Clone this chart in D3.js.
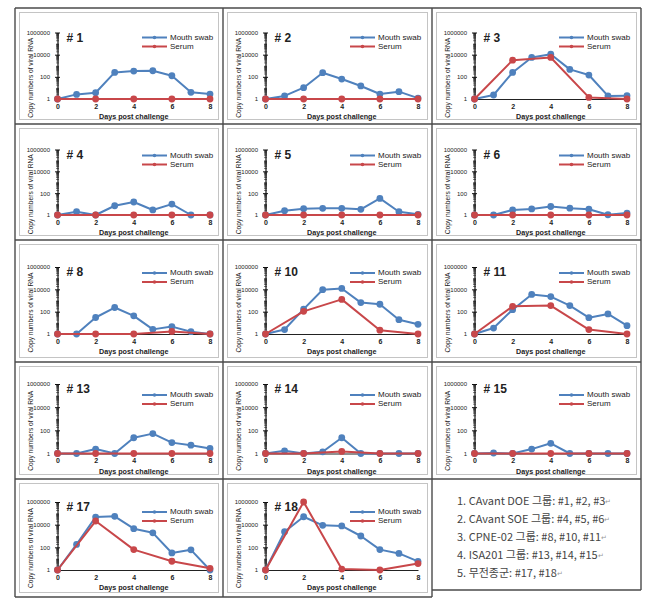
<!DOCTYPE html>
<html><head><meta charset="utf-8">
<script src="https://cdn.jsdelivr.net/npm/d3@7"></script>
<style>body{margin:0;background:#fff} svg{display:block}</style>
</head><body><svg id="c" width="658" height="606"></svg>
<script>
const days = [0,1,2,3,4,5,6,7,8];
const serumDays = [0,2,4,6,8];
const panelLabels = ["# 1","# 2","# 3","# 4","# 5","# 6","# 8","# 10","# 11","# 13","# 14","# 15","# 17","# 18"];
const mouthSwab = [
 [1,2.6,3.7,250,330,355,125,4,2.8],
 [1,1.9,10.5,235,63,15,2.8,4.6,1.2],
 [1,2.3,250,5600,11000,470,145,1.9,2],
 [1,2,1,7,15.5,2.9,10,1,1],
 [1,2.5,3.8,4.1,4.1,3.3,33,2,1.15],
 [1,1,2.9,3.6,6,4.2,3.4,1.05,1.5],
 [1,1,30,235,42,2.6,4.6,1.6,1],
 [1,2.5,170,9300,12000,650,460,19,7.4],
 [1,3.4,150,3500,2250,350,29,63,5.6],
 [1,1,2.4,1,23,52,8.7,5.2,2.7],
 [1,1.7,1,1.4,23,1,1,1,1],
 [1,1.1,1,2.4,7.6,1,1,1,1],
 [1,180,47000,54000,4400,1900,32,60,1],
 [1,2400,50000,8700,7700,1000,63,29,5.8]
];
const serum = [
 [1,1,1,1,1],
 [1,1,1,1,1],
 [1,3200,5600,1.4,1],
 [1,1,1,1,1],
 [1,1,1,1,1],
 [1,1,1,1,1],
 [1,1,1,1.7,1],
 [1,107,1260,2.2,1],
 [1,300,350,2.5,1],
 [1,1,1,1,1],
 [1,1,1.5,1,1],
 [1,1,1,1,1],
 [1,21000,63,5.9,1.4],
 [1,1000000,1.2,1,3.7]
];
const seriesNames = ["Mouth swab","Serum"];
const yTicks = [1,100,10000,1000000];
const xTicks = [0,2,4,6,8];
const xTitle = "Days post challenge";
const yTitle = "Copy numbers of viral RNA";
const groupNotes = [
 "1. CAvant DOE  그룹: #1, #2, #3",
 "2. CAvant SOE  그룹: #4, #5, #6",
 "3. CPNE-02  그룹: #8, #10, #11",
 "4. ISA201  그룹: #13, #14, #15",
 "5. 무전종군: #17, #18"
];

// layout
const colX = [15,223,432,641];
const rowY = [8,124,240,362,479,597];
const rowPlot = [[32.5,99],[149.5,215],[267,334],[384,453.5],[502,570]];
const legendDy = [5,6,6,11,10];
const blue = "#4f81bd", red = "#c8474a";
const FONT = "'Liberation Sans', Arial, sans-serif";

const svg = d3.select("#c");

// minor ticks per decade
const minorTicks = [];
[1,10,100,1000,10000,100000].forEach(b => { for (let k=2;k<10;k++) minorTicks.push(b*k); });
const decadeTicks = [10,1000,100000];

panelLabels.forEach((lab,i) => {
  const r = Math.floor(i/3), c = i%3;
  const x0 = colX[c], y0 = rowY[r];
  const x = d3.scaleLinear().domain([0,8]).range([x0+42.5, x0+195]);
  const y = d3.scaleLog().domain([1,1e6]).range([rowPlot[r][1], rowPlot[r][0]]);
  const g = svg.append("g");

  // chart frame
  g.append("rect").attr("x",x0+4.5).attr("y",y0+4.5)
    .attr("width",colX[c+1]-x0-9).attr("height",rowY[r+1]-y0-9)
    .attr("fill","none").attr("stroke","#c4c4c4").attr("stroke-width",1);

  // minor ticks
  const minorAx = g.append("g").attr("transform",`translate(${x(0)},0)`)
    .call(d3.axisLeft(y).tickValues(minorTicks.concat(decadeTicks)).tickFormat("").tickSizeInner(1.5).tickSizeOuter(0));
  minorAx.select(".domain").remove();
  minorAx.selectAll("line").attr("x2",-1.5).attr("x1",1.5).attr("stroke","#222").attr("stroke-width",0.6);

  // y axis
  const yAx = g.append("g").attr("transform",`translate(${x(0)},0)`)
    .call(d3.axisLeft(y).tickValues(yTicks).tickFormat(d3.format("d")).tickSizeInner(2.5).tickSizeOuter(0).tickPadding(5));
  yAx.select(".domain").attr("stroke","#111").attr("stroke-width",1.2);
  yAx.selectAll("line").attr("x1",2.5).attr("x2",-2.5).attr("stroke","#111");
  yAx.selectAll("text").attr("font-family",FONT).attr("font-size",6).attr("fill","#222");

  // x axis
  const xAx = g.append("g").attr("transform",`translate(0,${y(1)})`)
    .call(d3.axisBottom(x).tickValues(xTicks).tickSize(0).tickPadding(5));
  xAx.select(".domain").attr("stroke","#222").attr("stroke-width",1);
  xAx.selectAll("text").attr("font-family",FONT).attr("font-size",7).attr("font-weight","bold").attr("fill","#222");

  // titles
  g.append("text").attr("x",(x(0)+x(8))/2).attr("y",y(1)+20)
    .attr("text-anchor","middle").attr("font-family",FONT).attr("font-size",7.2)
    .attr("font-weight","bold").attr("fill","#222").text(xTitle);
  g.append("text").attr("transform",`translate(${x0+16},${(y(1)+y(1e6))/2+12}) rotate(-90)`)
    .attr("text-anchor","middle").attr("dominant-baseline","middle")
    .attr("font-family",FONT).attr("font-size",6.6).attr("fill","#222").text(yTitle);

  // series
  const line = d3.line().x(d=>x(d[0])).y(d=>y(d[1]));
  const mData = days.map((d,j)=>[d,mouthSwab[i][j]]);
  const sData = serumDays.map((d,j)=>[d,serum[i][j]]);
  [[mData,blue],[sData,red]].forEach(([data,col]) => {
    g.append("path").datum(data).attr("d",line).attr("fill","none")
      .attr("stroke",col).attr("stroke-width",2).attr("stroke-linejoin","round");
    g.selectAll(null).data(data).join("circle")
      .attr("cx",d=>x(d[0])).attr("cy",d=>y(d[1])).attr("r",3.4).attr("fill",col);
  });

  // panel label
  g.append("text").attr("x",x(0)+9).attr("y",y(1e6)+6)
    .attr("dominant-baseline","middle").attr("font-family",FONT)
    .attr("font-size",12).attr("font-weight","bold").attr("fill","#222").text(lab);

  // legend
  [blue,red].forEach((col,k) => {
    const ly = y(1e6) + legendDy[r] + k*9;
    g.append("line").attr("x1",x0+127).attr("x2",x0+152).attr("y1",ly).attr("y2",ly)
      .attr("stroke",col).attr("stroke-width",2);
    g.append("circle").attr("cx",x0+139.5).attr("cy",ly).attr("r",1.8).attr("fill",col);
    g.append("text").attr("x",x0+155).attr("y",ly).attr("dominant-baseline","middle")
      .attr("font-family",FONT).attr("font-size",8).attr("fill","#222").text(seriesNames[k]);
  });
});

// notes cell
const notes = svg.append("g");
groupNotes.forEach((t,k) => {
  const tx = notes.append("text").attr("x",457).attr("y",502+k*18)
    .attr("dominant-baseline","middle")
    .attr("font-family","'Noto Sans CJK KR', 'Noto Sans', sans-serif")
    .attr("font-size",11).attr("fill","#444");
  tx.append("tspan").text(t);
  tx.append("tspan").attr("font-size",7).attr("fill","#999").text("↵");
});

// table borders
const B = "#4a4a4a";
const bl = (x1,y1,x2,y2) => svg.append("line").attr("x1",x1).attr("y1",y1).attr("x2",x2).attr("y2",y2)
  .attr("stroke",B).attr("stroke-width",1.4);
rowY.slice(0,5).forEach(yy => bl(15,yy,641,yy));
bl(15,597,432,597);
bl(432,590,641,590);
bl(15,8,15,597); bl(223,8,223,597); bl(432,8,432,597); bl(641,8,641,590);
</script></body></html>
